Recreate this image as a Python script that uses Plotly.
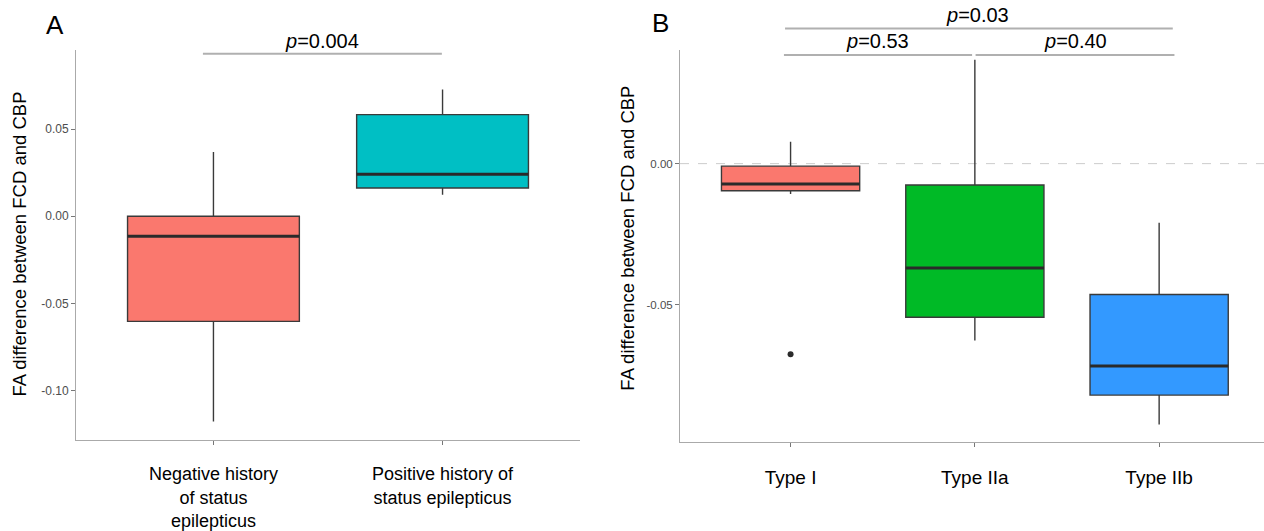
import plotly.graph_objects as go

# ---------------- Data ----------------
# Panel A: status epilepticus history
cats_a = ["Negative history<br>of status<br>epilepticus", "Positive history of<br>status epilepticus"]
a_lower = [-0.1177, 0.0123]
a_q1 = [-0.0603, 0.0162]
a_median = [-0.0115, 0.0241]
a_q3 = [0.0000, 0.0583]
a_upper = [0.0369, 0.0727]
a_colors = ["#FA786E", "#00BFC4"]
a_ticks = [-0.10, -0.05, 0.00, 0.05]

# Panel B: FCD type
cats_b = ["Type I", "Type IIa", "Type IIb"]
b_lower = [-0.0108, -0.0627, -0.0925]
b_q1 = [-0.0096, -0.0545, -0.0821]
b_median = [-0.0072, -0.0370, -0.0718]
b_q3 = [-0.0009, -0.0076, -0.0464]
b_upper = [0.0078, 0.0368, -0.0210]
b_colors = ["#FA786E", "#00BA26", "#3399FF"]
b_outlier_idx = [0]
b_outlier_val = [-0.0676]
b_ticks = [-0.05, 0.00]

# Significance brackets: (label, x start, x end, line y [px], label x, label y [px])
sig_a = [("0.004", -0.046, 0.997, 54, 0.473, 41)]
sig_b = [("0.03", -0.030, 2.074, 28.7, 1.014, 15),
         ("0.53", -0.036, 0.985, 55.3, 0.470, 41.5),
         ("0.40", 1.004, 2.083, 55.3, 1.545, 41.5)]

FONT = "Liberation Sans, Arial, Helvetica, sans-serif"
W, H = 1264, 531
OFF = 0  # body margin removed via post_script


def px(X):
    return (X - OFF) / W


def py(Y):
    return 1 - (Y - OFF) / H


BOX_LINE = "#3a3a3a"
BOX_W = 0.75

fig = go.Figure()


def add_boxes(cats, lo, q1, med, q3, up, colors, xa, ya):
    for i in range(len(cats)):
        fig.add_trace(go.Box(
            x=[i], q1=[q1[i]], median=[med[i]], q3=[q3[i]],
            lowerfence=[lo[i]], upperfence=[up[i]],
            orientation="v", width=BOX_W, whiskerwidth=0,
            fillcolor=colors[i], line=dict(color=BOX_LINE, width=1.4),
            boxpoints=False, showlegend=False, hoverinfo="skip",
            xaxis=xa, yaxis=ya,
        ))


add_boxes(cats_a, a_lower, a_q1, a_median, a_q3, a_upper, a_colors, "x", "y")
add_boxes(cats_b, b_lower, b_q1, b_median, b_q3, b_upper, b_colors, "x2", "y2")

fig.add_trace(go.Scatter(
    x=b_outlier_idx, y=b_outlier_val, mode="markers",
    marker=dict(color="#2b2b2b", size=6), showlegend=False,
    xaxis="x2", yaxis="y2", hoverinfo="skip"))

shapes = []
# thick median lines
for i, m in enumerate(a_median):
    shapes.append(dict(type="line", xref="x", yref="y", x0=i - BOX_W / 2, x1=i + BOX_W / 2,
                       y0=m, y1=m, line=dict(color="#2a2a2a", width=3)))
for i, m in enumerate(b_median):
    shapes.append(dict(type="line", xref="x2", yref="y2", x0=i - BOX_W / 2, x1=i + BOX_W / 2,
                       y0=m, y1=m, line=dict(color="#2a2a2a", width=3)))
# dashed zero reference in panel B
shapes.append(dict(type="line", xref="x2 domain", yref="y2", x0=0, x1=1, y0=0, y1=0,
                   line=dict(color="#cccccc", width=1, dash="dash"), layer="below"))

annotations = []
for (lab, x0, x1, ly, tx, ty), xr in [(s, "x") for s in sig_a] + [(s, "x2") for s in sig_b]:
    shapes.append(dict(type="line", xref=xr, yref="paper", x0=x0, x1=x1, y0=py(ly), y1=py(ly),
                       line=dict(color="#b0b0b0", width=2)))
    annotations.append(dict(xref=xr, yref="paper", x=tx, y=py(ty), text="<i>p</i>=" + lab,
                            showarrow=False, xanchor="center", yanchor="middle",
                            font=dict(size=20, color="black", family=FONT)))

# panel labels and y titles
for lab, x, y in [("A", 55, 25), ("B", 660, 23)]:
    annotations.append(dict(xref="paper", yref="paper", x=px(x), y=py(y), text=lab,
                            showarrow=False, xanchor="center", yanchor="middle",
                            font=dict(size=26, color="black", family=FONT)))
for x, y in [(20, 246), (628, 240)]:
    annotations.append(dict(xref="paper", yref="paper", x=px(x), y=py(y),
                            text="FA difference between FCD and CBP", textangle=-90,
                            showarrow=False, xanchor="center", yanchor="middle",
                            font=dict(size=18.5, color="black", family=FONT)))

axis_common = dict(showgrid=False, zeroline=False, showline=True, linecolor="#aaaaaa",
                   linewidth=1, ticks="outside", ticklen=4, tickcolor="#777777", tickwidth=1)

fig.update_layout(
    width=W, height=H, margin=dict(l=0, r=0, t=0, b=0),
    paper_bgcolor="white", plot_bgcolor="white", showlegend=False,
    font=dict(family=FONT), hovermode=False,
    xaxis=dict(domain=[px(76), px(580)], range=[-0.6, 1.6], tickvals=list(range(len(cats_a))),
               ticktext=cats_a, tickfont=dict(size=18, color="black"),
               ticklabelstandoff=14, anchor="y", **axis_common),
    yaxis=dict(domain=[py(442.3), py(50)], range=[-0.1282, 0.0955], tickvals=a_ticks,
               ticktext=["%.2f" % v for v in a_ticks], tickfont=dict(size=12, color="#4d4d4d"),
               anchor="x", **axis_common),
    xaxis2=dict(domain=[px(680), px(1264)], range=[-0.6, 2.569], tickvals=list(range(len(cats_b))),
                ticktext=cats_b, tickfont=dict(size=19, color="black"),
                ticklabelstandoff=14, anchor="y2", **axis_common),
    yaxis2=dict(domain=[py(445), py(50)], range=[-0.0989, 0.0404], tickvals=b_ticks,
                ticktext=["%.2f" % v for v in b_ticks], tickfont=dict(size=11.5, color="#4d4d4d"),
                anchor="x2", **axis_common),
    shapes=shapes, annotations=annotations,
)

fig.write_html("out.html", config={"displayModeBar": False},
               post_script="document.body.style.margin='0';document.body.style.overflow='hidden';")
